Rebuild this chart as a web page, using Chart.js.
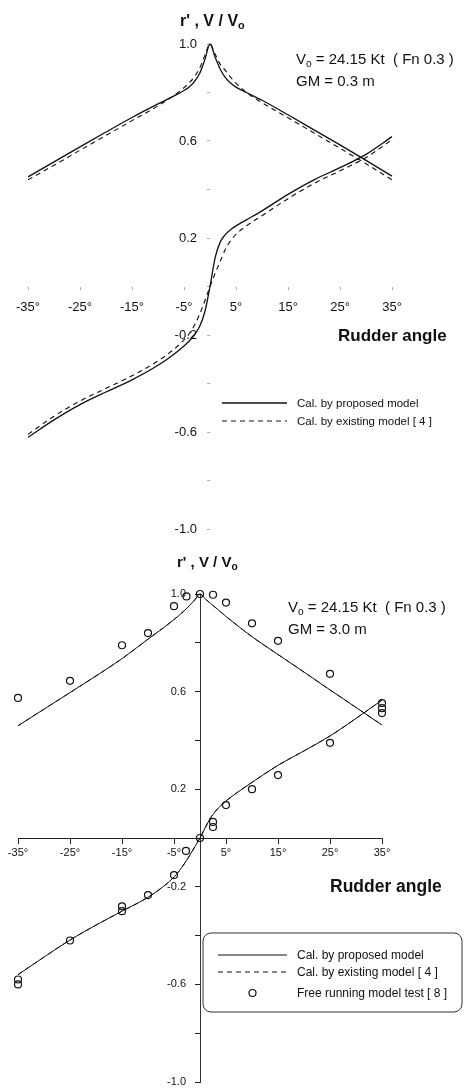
<!DOCTYPE html>
<html>
<head>
<meta charset="utf-8">
<script src="https://cdn.jsdelivr.net/npm/chart.js@4.4.1/dist/chart.umd.min.js"></script>
<style>
  html, body { margin: 0; padding: 0; background: #fff; }
  #wrap { position: relative; width: 469px; height: 1088px; }
  canvas { position: absolute; left: 0; }
  #gm03 { top: 0; }
  #gm30 { top: 544px; }
</style>
</head>
<body>
<div id="wrap">
  <canvas id="gm03" width="469" height="544"></canvas>
  <canvas id="gm30" width="469" height="544"></canvas>
</div>
<script>
// rudder angles (deg) at which the calculated curves are tabulated
const angles = [-35, -30, -25, -20, -15, -10, -7, -5, -4, -3, -2, -1, 0, 1, 2, 3, 4, 5, 7, 10, 15, 20, 25, 30, 35];

// GM = 0.3 m : speed ratio V/Vo and non-dimensional turning rate r'
const speedProposedGM03 = [0.452, 0.514, 0.576, 0.637, 0.697, 0.753, 0.785, 0.808, 0.823, 0.845, 0.878, 0.935, 1.0, 0.945, 0.895, 0.86, 0.838, 0.822, 0.80, 0.768, 0.708, 0.646, 0.584, 0.52, 0.455];
const speedExistingGM03 = [0.44, 0.50, 0.562, 0.623, 0.684, 0.745, 0.787, 0.82, 0.84, 0.865, 0.90, 0.953, 1.0, 0.958, 0.915, 0.89, 0.862, 0.838, 0.80, 0.758, 0.696, 0.633, 0.57, 0.506, 0.44];
const rateProposedGM03 = [-0.622, -0.55, -0.487, -0.435, -0.385, -0.325, -0.28, -0.245, -0.225, -0.20, -0.165, -0.105, 0, 0.12, 0.185, 0.215, 0.235, 0.25, 0.275, 0.312, 0.38, 0.44, 0.49, 0.545, 0.618];
const rateExistingGM03 = [-0.61, -0.535, -0.472, -0.42, -0.368, -0.307, -0.26, -0.22, -0.195, -0.16, -0.115, -0.06, 0, 0.055, 0.105, 0.155, 0.19, 0.215, 0.25, 0.292, 0.362, 0.425, 0.477, 0.532, 0.605];

// GM = 3.0 m : both calculations lie on top of each other
const speedProposedGM30 = [0.46, 0.528, 0.596, 0.664, 0.735, 0.815, 0.862, 0.895, 0.913, 0.932, 0.953, 0.976, 1.0, 0.98, 0.962, 0.944, 0.926, 0.908, 0.874, 0.825, 0.752, 0.68, 0.607, 0.535, 0.463];
const speedExistingGM30 = [0.46, 0.528, 0.596, 0.664, 0.735, 0.815, 0.862, 0.895, 0.913, 0.932, 0.953, 0.976, 1.0, 0.98, 0.962, 0.944, 0.926, 0.908, 0.874, 0.825, 0.752, 0.68, 0.607, 0.535, 0.463];
const rateProposedGM30 = [-0.56, -0.488, -0.418, -0.357, -0.30, -0.243, -0.198, -0.16, -0.135, -0.105, -0.072, -0.036, 0, 0.042, 0.082, 0.11, 0.133, 0.152, 0.184, 0.228, 0.298, 0.357, 0.418, 0.49, 0.565];
const rateExistingGM30 = [-0.56, -0.488, -0.418, -0.357, -0.30, -0.243, -0.198, -0.16, -0.135, -0.105, -0.072, -0.036, 0, 0.042, 0.082, 0.11, 0.133, 0.152, 0.184, 0.228, 0.298, 0.357, 0.418, 0.49, 0.565];

// free running model test [8], GM = 3.0 m
const testSpeedAngles = [-35, -25, -15, -10, -5, -2.6, 0, 2.5, 5, 10, 15, 25];
const testSpeed = [0.574, 0.644, 0.79, 0.84, 0.95, 0.99, 1.0, 0.997, 0.965, 0.88, 0.808, 0.673];
const testRateAngles = [-35, -35, -25, -15, -15, -10, -5, -2.7, 0, 2.5, 2.5, 5, 10, 15, 25, 35, 35, 35];
const testRate = [-0.58, -0.60, -0.42, -0.28, -0.30, -0.234, -0.152, -0.053, 0, 0.066, 0.045, 0.135, 0.20, 0.258, 0.39, 0.553, 0.532, 0.512];

// axes
const xTicks = [-35, -25, -15, -5, 5, 15, 25, 35];
const yTicks = [-1.0, -0.8, -0.6, -0.4, -0.2, 0, 0.2, 0.4, 0.6, 0.8, 1.0];
const yLabelValues = [1.0, 0.6, 0.2, -0.2, -0.6, -1.0];
const yLabels = ['1.0', '0.6', '0.2', '-0.2', '-0.6', '-1.0'];
const legendLabels = ['Cal. by proposed model', 'Cal. by existing model [ 4 ]', 'Free running model test [ 8 ]'];

const FONT = '"Liberation Sans", Arial, sans-serif';

function pts(xs, ys) {
  return xs.map((x, i) => ({ x: x, y: ys[i] }));
}

function curve(ys, dashed, width) {
  return {
    data: pts(angles, ys),
    borderColor: '#111',
    borderWidth: width,
    borderDash: dashed ? [5, 4] : [],
    pointRadius: 0,
    fill: false,
    cubicInterpolationMode: 'monotone',
    clip: false
  };
}

function circles(xs, ys) {
  return {
    data: pts(xs, ys),
    showLine: false,
    pointStyle: 'circle',
    pointRadius: 3.5,
    pointBorderWidth: 1.2,
    pointBorderColor: '#111',
    pointBackgroundColor: 'rgba(0,0,0,0)',
    clip: false
  };
}

// centred axes take no room in the layout
function noRoom(scale) {
  if (scale.isHorizontal()) scale.height = 0; else scale.width = 0;
  scale.paddingLeft = scale.paddingRight = scale.paddingTop = scale.paddingBottom = 0;
}

function drawRich(ctx, segs, x, y, size, bold) {
  let cx = x;
  ctx.textBaseline = 'alphabetic';
  ctx.textAlign = 'left';
  segs.forEach(s => {
    const sub = s[1] === 'sub';
    const fs = sub ? size * 0.68 : size;
    ctx.font = (bold ? 'bold ' : '') + fs + 'px ' + FONT;
    ctx.fillText(s[0], cx, sub ? y + size * 0.2 : y);
    cx += ctx.measureText(s[0]).width;
  });
}

function annotations(cfg) {
  return {
    id: 'annotations',
    afterDraw(chart) {
      const ctx = chart.ctx;
      const xs = chart.scales.x;
      const ys = chart.scales.y;
      ctx.save();
      ctx.fillStyle = '#111';

      // value labels left of the centred r' axis
      ctx.font = cfg.tickSize + 'px ' + FONT;
      ctx.textAlign = 'right';
      ctx.textBaseline = 'middle';
      const ax = xs.getPixelForValue(0);
      yLabelValues.forEach((v, i) => ctx.fillText(yLabels[i], ax - cfg.yGap, ys.getPixelForValue(v)));

      cfg.texts.forEach(t => drawRich(ctx, t.segs, t.x, t.y, t.size, t.bold));

      const lg = cfg.legend;
      if (lg.box) {
        const b = lg.box;
        ctx.strokeStyle = '#333';
        ctx.lineWidth = 1;
        ctx.beginPath();
        ctx.roundRect(b.x, b.y, b.w, b.h, 8);
        ctx.stroke();
      }
      lg.rows.forEach(r => {
        const ds = chart.data.datasets[r.dataset];
        ctx.strokeStyle = '#111';
        if (ds.showLine === false) {
          ctx.lineWidth = 1.2;
          ctx.setLineDash([]);
          ctx.beginPath();
          ctx.arc((lg.x1 + lg.x2) / 2, r.y, 3.5, 0, Math.PI * 2);
          ctx.stroke();
        } else {
          ctx.lineWidth = ds.borderWidth;
          ctx.setLineDash(ds.borderDash);
          ctx.beginPath();
          ctx.moveTo(lg.x1, r.y);
          ctx.lineTo(lg.x2, r.y);
          ctx.stroke();
        }
        ctx.setLineDash([]);
        ctx.font = lg.size + 'px ' + FONT;
        ctx.textBaseline = 'middle';
        ctx.textAlign = 'left';
        ctx.fillText(legendLabels[r.label], lg.textX, r.y + 1);
      });
      ctx.restore();
    }
  };
}

function buildChart(id, cfg) {
  const tickFont = { family: FONT, size: cfg.tickSize };
  return new Chart(document.getElementById(id), {
    type: 'line',
    data: { datasets: cfg.datasets },
    options: {
      responsive: false,
      animation: false,
      events: [],
      layout: { padding: cfg.padding },
      plugins: { legend: { display: false }, tooltip: { enabled: false } },
      scales: {
        x: {
          type: 'linear',
          min: -35,
          max: 35,
          position: { y: 0 },
          afterBuildTicks: s => { s.ticks = xTicks.map(v => ({ value: v })); },
          afterFit: noRoom,
          ticks: {
            callback: v => v + '°',
            font: tickFont,
            color: '#111',
            padding: cfg.xPad,
            maxRotation: 0,
            autoSkip: false
          },
          grid: { drawOnChartArea: false, drawTicks: true, tickLength: cfg.tickLen, color: cfg.tickColor, lineWidth: 1 },
          border: { display: cfg.axisLine, color: '#222', width: 1 }
        },
        y: {
          type: 'linear',
          min: -1,
          max: 1,
          position: { x: 0 },
          afterBuildTicks: s => { s.ticks = yTicks.map(v => ({ value: v })); },
          afterFit: noRoom,
          ticks: { display: false },
          grid: { drawOnChartArea: false, drawTicks: true, tickLength: cfg.tickLen, color: cfg.tickColor, lineWidth: 1 },
          border: { display: cfg.axisLine, color: '#333', width: 1 }
        }
      }
    },
    plugins: [annotations(cfg)]
  });
}

// GM = 0.3 m
buildChart('gm03', {
  padding: { left: 28, right: 77, top: 44, bottom: 15 },
  tickSize: 13,
  tickLen: 3,
  tickColor: '#aaa',
  axisLine: false,
  xPad: 10,
  yGap: 13,
  datasets: [
    curve(speedProposedGM03, false, 1.3),
    curve(speedExistingGM03, true, 1.1),
    curve(rateProposedGM03, false, 1.3),
    curve(rateExistingGM03, true, 1.1)
  ],
  texts: [
    { segs: [["r' , V / V"], ['o', 'sub']], x: 180, y: 26, size: 16, bold: true },
    { segs: [['V'], ['o', 'sub'], [' = 24.15 Kt  ( Fn 0.3 )']], x: 296, y: 64, size: 15 },
    { segs: [['GM = 0.3 m']], x: 296, y: 86, size: 15 },
    { segs: [['Rudder angle']], x: 338, y: 341, size: 17, bold: true }
  ],
  legend: {
    box: null,
    x1: 222, x2: 287, textX: 297, size: 11.5,
    rows: [
      { dataset: 0, label: 0, y: 403 },
      { dataset: 1, label: 1, y: 421 }
    ]
  }
});

// GM = 3.0 m
buildChart('gm30', {
  padding: { left: 18, right: 87, top: 50, bottom: 6 },
  tickSize: 11,
  tickLen: 5,
  tickColor: '#222',
  axisLine: true,
  xPad: 3,
  yGap: 14,
  datasets: [
    curve(speedProposedGM30, false, 1),
    curve(speedExistingGM30, true, 1),
    curve(rateProposedGM30, false, 1),
    curve(rateExistingGM30, true, 1),
    circles(testSpeedAngles, testSpeed),
    circles(testRateAngles, testRate)
  ],
  texts: [
    { segs: [["r' , V / V"], ['o', 'sub']], x: 177, y: 23, size: 15, bold: true },
    { segs: [['V'], ['o', 'sub'], [' = 24.15 Kt  ( Fn 0.3 )']], x: 288, y: 68, size: 15 },
    { segs: [['GM = 3.0 m']], x: 288, y: 90, size: 15 },
    { segs: [['Rudder angle']], x: 330, y: 348, size: 17.5, bold: true }
  ],
  legend: {
    box: { x: 203, y: 389, w: 259, h: 79 },
    x1: 218, x2: 287, textX: 297, size: 12,
    rows: [
      { dataset: 0, label: 0, y: 411 },
      { dataset: 1, label: 1, y: 428 },
      { dataset: 4, label: 2, y: 449 }
    ]
  }
});
</script>
</body>
</html>
